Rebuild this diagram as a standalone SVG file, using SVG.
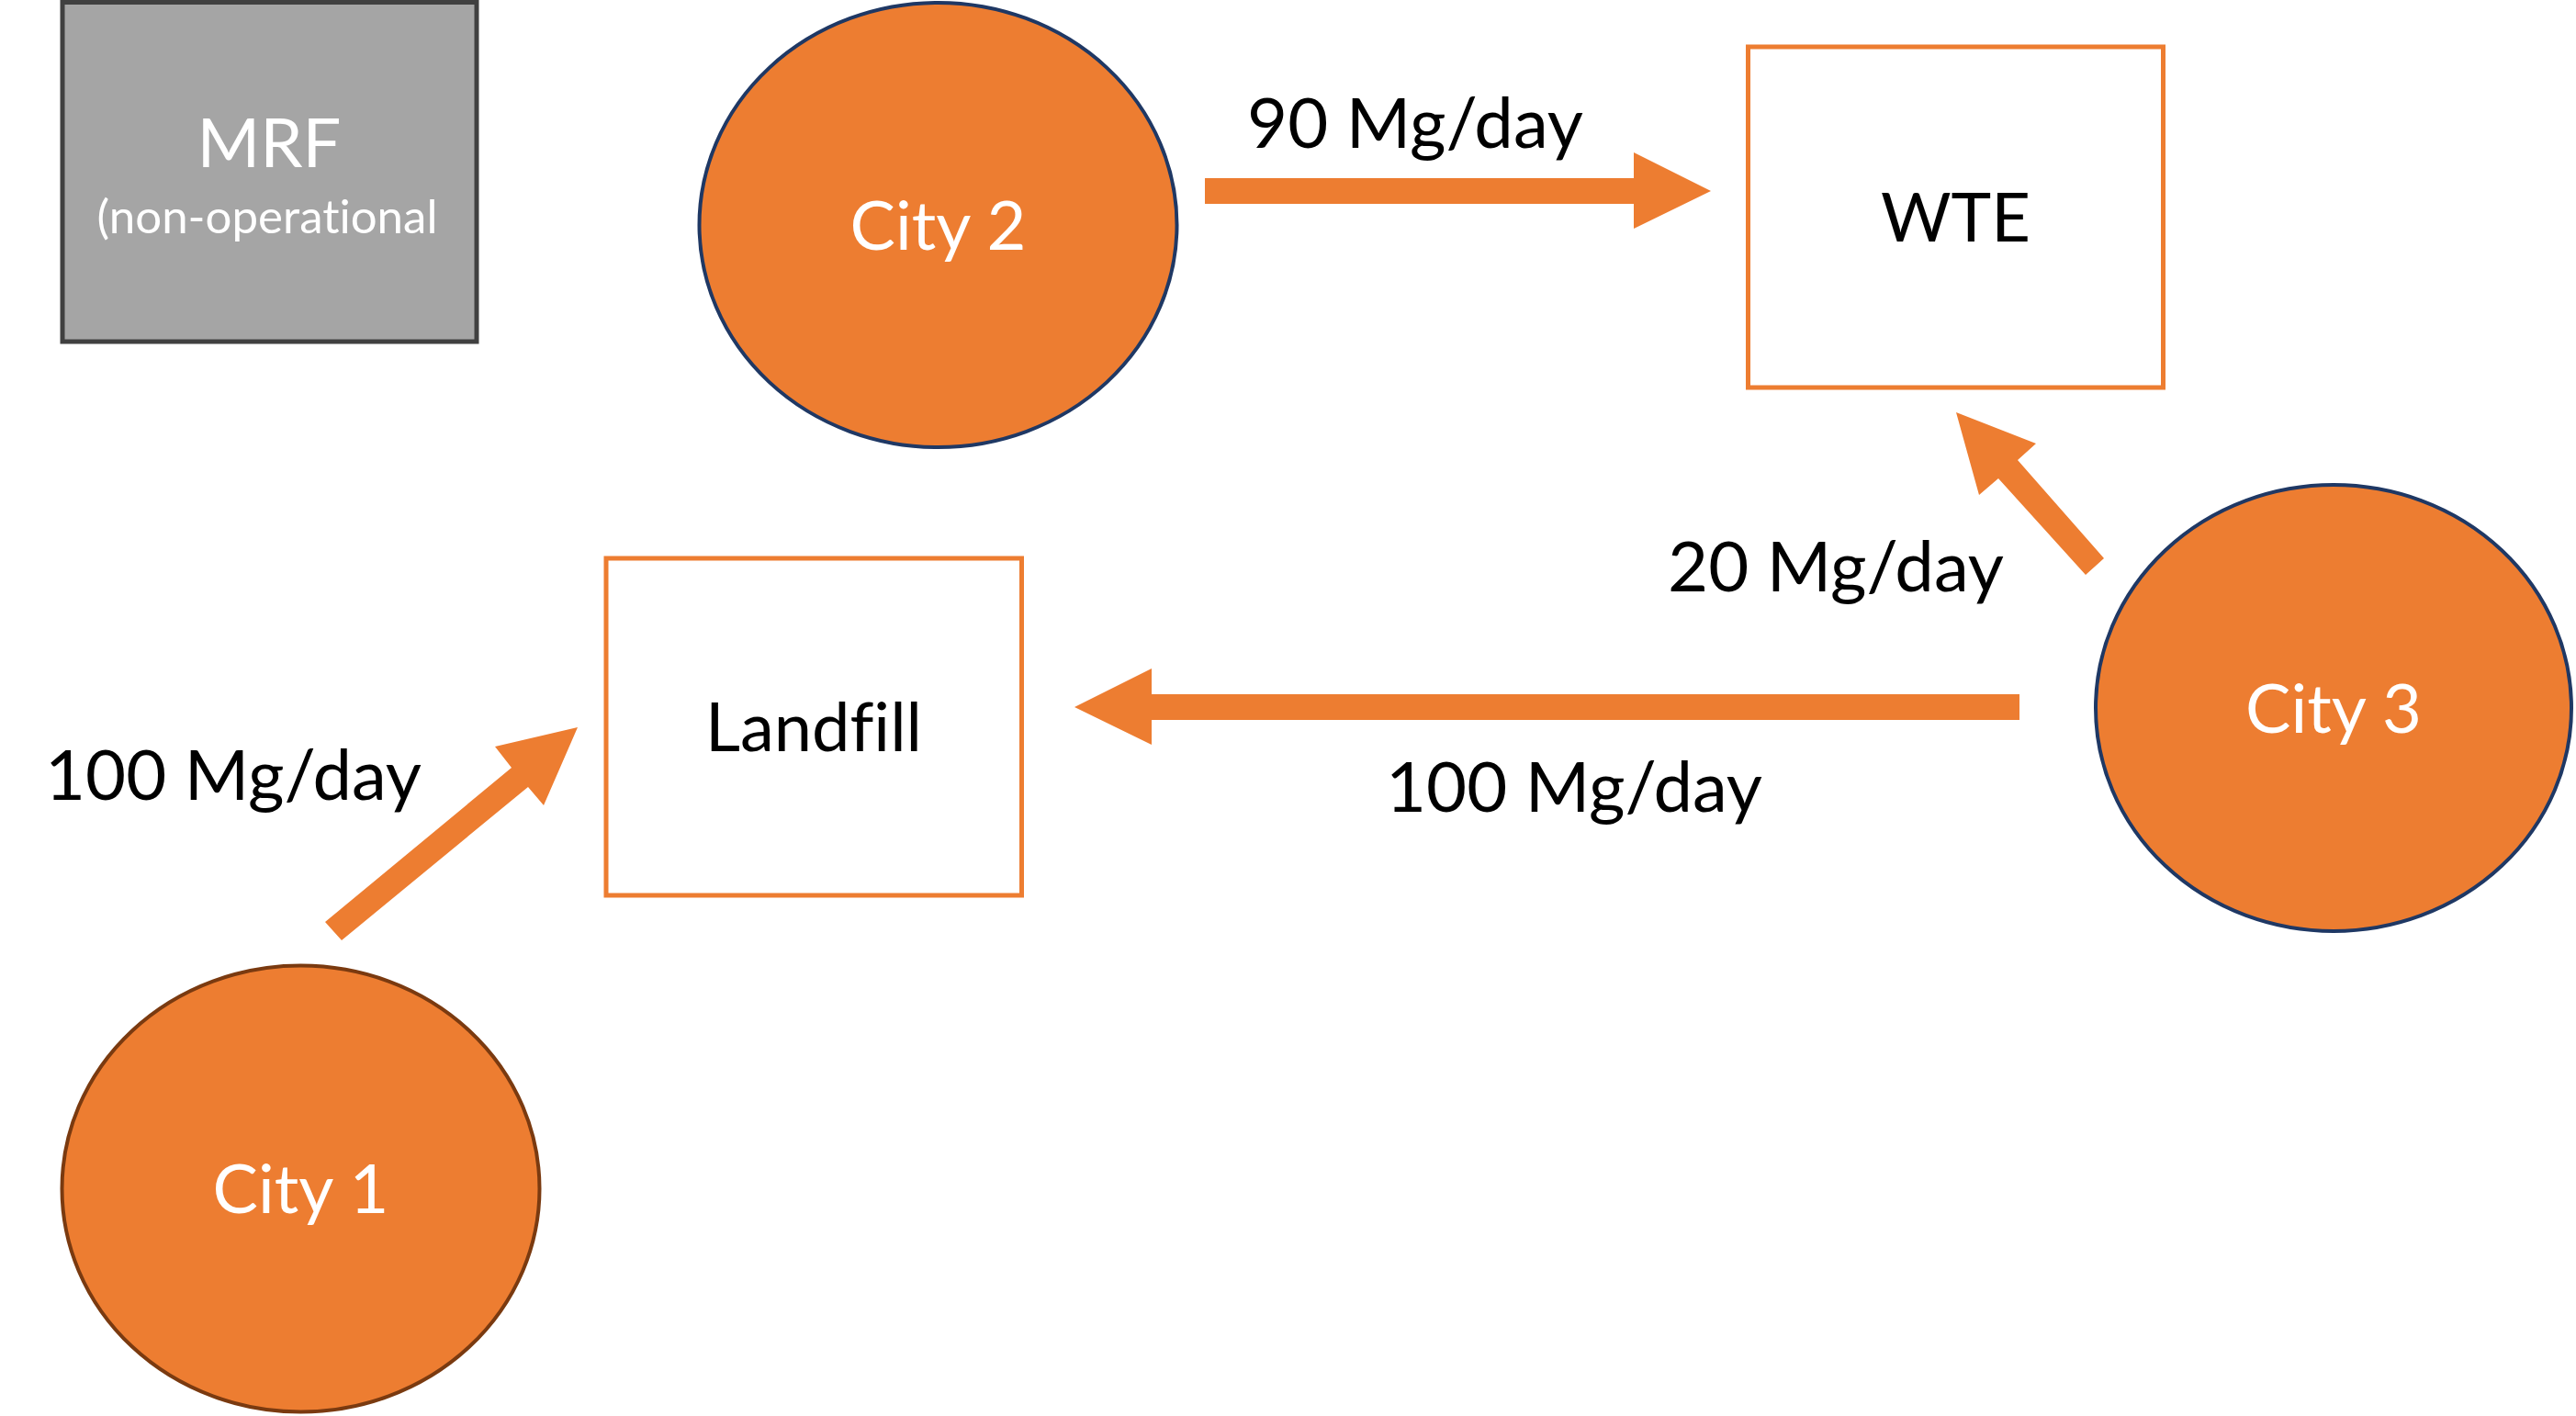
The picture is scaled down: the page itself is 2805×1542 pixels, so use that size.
<svg xmlns="http://www.w3.org/2000/svg" width="2805" height="1542" viewBox="0 0 2805 1542">
<style>
  .city { fill: #ED7D31; stroke: #1F3864; stroke-width: 4; }
  .city1 { fill: #ED7D31; stroke: #7A3A10; stroke-width: 4; }
  .box { fill: #FFFFFF; stroke: #ED7D31; stroke-width: 5; }
  .mrf { fill: #A5A5A5; stroke: #404040; stroke-width: 5; }
  .arrow { fill: #ED7D31; stroke: none; }
  text { font-family: Lato, "Open Sans", sans-serif; text-anchor: middle; font-variant-ligatures: none; font-feature-settings: "liga" 0, "clig" 0, "dlig" 0; }
  .w { fill: #FFFFFF; font-size: 74px; }
  .n { fill: #000000; font-size: 74px; }
  .b { fill: #000000; font-size: 76px; }
  .small { fill: #FFFFFF; font-size: 51px; }
</style>
<rect width="2805" height="1542" fill="#FFFFFF"/>
<g id="connectors">
  <polygon class="arrow" points="1312,194 1779,194 1779,166 1863,208 1779,249 1779,222 1312,222"/>
  <polygon class="arrow" points="2199,756 1254,756 1254,728 1170,770 1254,811 1254,784 2199,784"/>
  <polygon class="arrow" points="2130,449 2217,483 2197,501 2291,608 2271,626 2176,521 2155,539"/>
  <polygon class="arrow" points="629,792 539,813 557,836 354,1004 372,1024 575,857 592,877"/>
  <text class="b" x="1541" y="161">90 Mg/day</text>
  <text class="b" x="1999" y="644">20 Mg/day</text>
  <text class="b" x="1714" y="884">100 Mg/day</text>
  <text class="b" x="254" y="871">100 Mg/day</text>
</g>
<g id="mrf">
  <rect class="mrf" x="68" y="2.5" width="451" height="369.5"/>
  <text class="w" x="293" y="182">MRF</text>
  <text class="small" x="291" y="254">(non-operational</text>
</g>
<g id="city2">
  <ellipse class="city" cx="1021.5" cy="245" rx="260" ry="242"/>
  <text class="w" x="1021.5" y="272">City 2</text>
</g>
<g id="wte">
  <rect class="box" x="1903.5" y="51" width="452" height="371"/>
  <text class="n" x="2129.5" y="263">WTE</text>
</g>
<g id="landfill">
  <rect class="box" x="660" y="608" width="452.5" height="367"/>
  <text class="n" x="886" y="818">Landfill</text>
</g>
<g id="city3">
  <ellipse class="city" cx="2541" cy="771" rx="259" ry="243"/>
  <text class="w" x="2541" y="798">City 3</text>
</g>
<g id="city1">
  <ellipse class="city1" cx="327.5" cy="1294.5" rx="260" ry="243"/>
  <text class="w" x="327.5" y="1321">City 1</text>
</g>
</svg>
